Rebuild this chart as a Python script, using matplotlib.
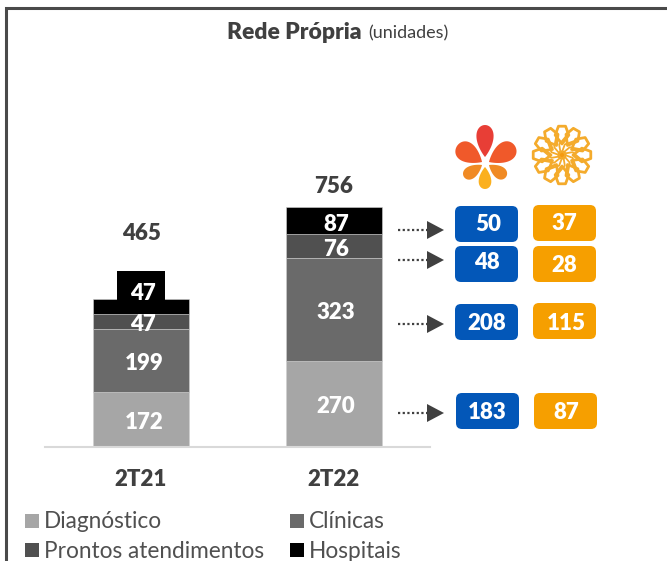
import matplotlib
matplotlib.use("Agg")
import matplotlib.pyplot as plt
from matplotlib.patches import Rectangle, FancyBboxPatch, Polygon, Ellipse
import numpy as np

plt.rcParams['font.family'] = ['Lato', 'DejaVu Sans']

periods = ['2T21', '2T22']
diagnostico = [172, 270]
clinicas = [199, 323]
prontos = [47, 76]
hospitais = [47, 87]
totals = [465, 756]
series_names = ['Diagnóstico', 'Clínicas', 'Prontos atendimentos', 'Hospitais']
blue_vals = [50, 48, 208, 183]
orange_vals = [37, 28, 115, 87]

c_diag = '#a6a6a6'
c_clin = '#6a6a6a'
c_pront = '#505050'
c_hosp = '#000000'
c_text = '#404040'
c_blue = '#0357b8'
c_orange = '#f69f00'

W, H = 667, 561
fig = plt.figure(figsize=(W/100, H/100), dpi=100)

# bars
ax = fig.add_axes([45/W, (H-447)/H, 385/W, 254/H])
bottom = np.zeros(2)
for vals, col in zip([diagnostico, clinicas, prontos, hospitais], [c_diag, c_clin, c_pront, c_hosp]):
	ax.bar([0, 1], vals, 0.5, bottom=bottom, color=col, edgecolor='#d0d0d0', linewidth=0.4)
	bottom += np.array(vals)
ax.set_xlim(-0.5, 1.5)
ax.set_ylim(0, 254/0.318)
ax.set_yticks([])
ax.set_xticks([])
for s in ['top', 'left', 'right']:
	ax.spines[s].set_visible(False)
ax.spines['bottom'].set_color('#d9d9d9')
ax.spines['bottom'].set_linewidth(1.5)
ax.patch.set_alpha(0)

# everything else in pixel coords
ov = fig.add_axes([0, 0, 1, 1])
ov.set_xlim(0, W)
ov.set_ylim(H, 0)
ov.axis('off')
ov.patch.set_alpha(0)

# frame
ov.plot([6, 6, W], [H, 8, 8], color='#4a4a4a', lw=2.2, solid_joinstyle='miter')

# title
ov.text(227, 32, 'Rede Própria', fontsize=16.5, fontweight='heavy', color=c_text, va='center', ha='left')
ov.text(368, 33, '(unidades)', fontsize=13, color=c_text, va='center', ha='left')

# highlight box behind the 2T21 hospital label
ov.add_patch(Rectangle((117, 271), 48, 30, color=c_hosp, lw=0))

def bar_label(x, y, s, col='white', size=16):
	ov.text(x, y, s, fontsize=size, fontweight='heavy', color=col, ha='center', va='center')

bar_label(144, 422, str(diagnostico[0]))
bar_label(144, 363, str(clinicas[0]))
bar_label(143, 324, str(prontos[0]))
bar_label(143, 293, str(hospitais[0]))
bar_label(336, 406, str(diagnostico[1]))
bar_label(336, 312, str(clinicas[1]))
bar_label(336, 249, str(prontos[1]))
bar_label(336, 224, str(hospitais[1]))
bar_label(141, 233, str(totals[0]), c_text)
bar_label(334, 186, str(totals[1]), c_text)
bar_label(141, 479, periods[0], c_text)
bar_label(334, 479, periods[1], c_text)

# legend
leg_pos = [(25, 521), (290, 521), (25, 550), (290, 550)]
for name, col, (x, y) in zip(series_names, [c_diag, c_clin, c_pront, c_hosp], leg_pos):
	ov.add_patch(Rectangle((x, y-7), 14, 14, color=col, lw=0))
	ov.text(x+19, y+1, name, fontsize=16.3, color='#505050', ha='left', va='center')

# arrows
for y in [230, 260, 324, 413]:
	ov.plot([398, 428], [y, y], color=c_text, lw=1.6, dashes=(1, 1.1))
	ov.add_patch(Polygon([(427, y-9), (444, y), (427, y+9)], color=c_text, lw=0))

# value boxes
blue_xy = [(455, 206), (455, 246), (455, 304), (456, 393)]
orange_xy = [(533, 205), (533, 246), (533, 303), (534, 393)]
blue_txt = [(488, 224), (487, 262), (487, 323), (487, 412)]
orange_txt = [(564, 223), (564, 265), (566, 323), (566, 412)]
for v, (x, y), (tx, ty) in zip(blue_vals, blue_xy, blue_txt):
	ov.add_patch(FancyBboxPatch((x+6, y+6), 51, 24, boxstyle='round,pad=6,rounding_size=6', color=c_blue, lw=0))
	bar_label(tx, ty, str(v), 'white')
for v, (x, y), (tx, ty) in zip(orange_vals, orange_xy, orange_txt):
	ov.add_patch(FancyBboxPatch((x+6, y+6), 51, 24, boxstyle='round,pad=6,rounding_size=6', color=c_orange, lw=0))
	bar_label(tx, ty, str(v), 'white')

# flower logo
def petal(tip, end, w, col):
	tip, end = np.array(tip, float), np.array(end, float)
	d = end - tip
	n = np.array([-d[1], d[0]]) / np.hypot(*d)
	t = np.linspace(0, 2*np.pi, 60)
	along = (1 - np.cos(t)) / 2
	side = w/2 * np.sin(t) * along**0.45 * 1.15
	ov.add_patch(Polygon(tip + np.outer(along, d) + np.outer(side, n), color=col, lw=0))

petal((485, 157), (485, 125), 19, '#e83e36')
petal((482, 162), (457, 146), 22, '#f0592a')
petal((489, 162), (515, 146), 22, '#f0592a')
petal((482, 165), (464, 177), 14, '#f08a24')
petal((489, 165), (506, 177), 14, '#f08a24')
petal((485, 167), (485, 189), 14, '#fbb01f')

# rosette logo
cx, cy = 562, 155
col = '#f4ab2c'
for a in np.arange(0, 360, 30):
	pol = [(29, a-7), (29, a+7), (21, a+19), (11, a), (21, a-19)]
	pts = [(cx+r*np.cos(np.radians(b)), cy+r*np.sin(np.radians(b))) for r, b in pol]
	ov.add_patch(Polygon(pts, closed=True, fill=False, edgecolor=col, lw=2.0, joinstyle='round'))
	rr = [3, 11, 19]
	bb = [a, a+15, a+42]
	ov.plot([cx+r*np.cos(np.radians(b)) for r, b in zip(rr, bb)], [cy+r*np.sin(np.radians(b)) for r, b in zip(rr, bb)], color=col, lw=1.3)
ov.add_patch(Ellipse((cx, cy), 9, 9, color='#f59a10', lw=0))

fig.savefig('out.png', dpi=100, facecolor='white')
